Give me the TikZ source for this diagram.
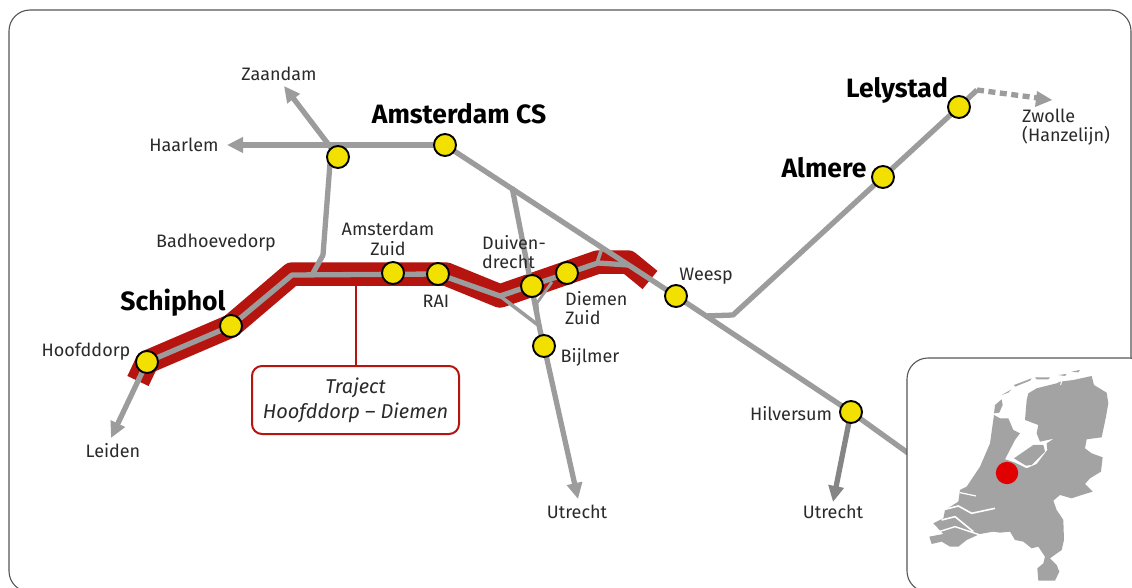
\documentclass[tikz,border=0pt]{standalone}
\usepackage{fontspec}
\setmainfont{Fira Sans}
\usetikzlibrary{arrows.meta}
\definecolor{rail}{HTML}{9C9C9C}
\definecolor{band}{HTML}{B5140F}
\definecolor{yel}{HTML}{F2E000}
\definecolor{txt}{HTML}{2A2A2A}
\definecolor{frm}{HTML}{555555}
\definecolor{mapg}{HTML}{A3A3A3}
\tikzset{
  stn/.style={circle,draw=black,line width=1.9pt,fill=yel,minimum size=22pt,inner sep=0pt},
  lbl/.style={text=txt,font=\fontsize{18}{19.5}\selectfont,inner sep=0pt,align=left},
  big/.style={text=black,font=\fontsize{26.5}{28}\selectfont\bfseries,inner sep=0pt},
  track/.style={draw=rail,line width=5.3pt,line join=round},
  thin track/.style={draw=rail,line width=2.8pt,line join=round},
  arr/.style={track,-{Triangle[length=16pt,width=15pt]}},
  frame/.style={draw=frm,line width=1.1pt,rounded corners=21pt},
}
\begin{document}
\begin{tikzpicture}[x=1pt,y=-1pt]
\useasboundingbox (0,0) rectangle (1132,588);
\begin{scope}
\clip (0,0) rectangle (1132,588);
\draw[frame,fill=white] (9,10) rectangle (1131,592);

% waypoints
\coordinate (a1) at (138,381);
\coordinate (a3) at (292,274);
\coordinate (a4) at (446,274);
\coordinate (a5) at (500,296);
\coordinate (a6) at (598,262);
\coordinate (a7) at (628,262);
\coordinate (a8) at (650,280);
\coordinate (tj) at (355.5,274);
\coordinate (cs) at (445,145);
\coordinate (sl) at (338,157);
\coordinate (wp) at (676,296);
\coordinate (hv) at (851,412);
\coordinate (mend) at (908,453);
\coordinate (hd) at (147,362);
\coordinate (sp) at (231,326);

% red band
\draw[band,line width=23.5pt,line join=round] (a1)--(hd)--(sp)--(a3)--(a4)--(a5)--(a6)--(a7)--(a8);
\draw[band,line width=2pt] (tj)--(355.5,366);

% grey lines
\draw[track] (hd)--(sp)--(292,275)--(438,274)--(500,296)--(598,263)--(628,265);
\draw[track] (cs)--(wp)--(hv)--(mend);
\draw[arr] (cs)--(227,145);
\draw[arr] (sl)--(284,86);
\draw[track] (331,150)--(323,255)--(312,275);
\draw[arr] (hd)--(111,438);
\draw[track] (512,187)--(540,330)--(544,346);
\draw[arr] (544,346)--(578,499);
\draw[track,line width=3.6pt] (500,296)--(538,325);
\draw[thin track] (552,282)--(537,303)--(538,315);
\draw[thin track,line width=3.6pt] (602,248)--(597,263);
\draw[track] (705,316)--(733,315)--(883,177)--(959,107)--(977,90);
\draw[rail,line width=5.3pt,dash pattern=on 7pt off 4.5pt] (977,90)--(1038,98);
\fill[rail] (1052,100)--(1035,107)--(1037,91)--cycle;
\draw[arr,draw=rail!85!black] (hv)--(833,502);

% stations
\node[stn] (nCS) at (cs) {};
\node[stn] (nSL) at (sl) {};
\node[stn] (nLS) at (959,107) {};
\node[stn] (nAL) at (883,177) {};
\node[stn] (nWP) at (wp) {};
\node[stn] (nHV) at (hv) {};
\node[stn] (nHD) at (hd) {};
\node[stn] (nSP) at (sp) {};
\node[stn] (nZD) at (393,273) {};
\node[stn] (nRA) at (438,274) {};
\node[stn] (nDV) at (532,286) {};
\node[stn] (nDZ) at (567,273) {};
\node[stn] (nBJ) at (544,346) {};

% callout
\node[draw=band,line width=2pt,rounded corners=10pt,fill=white,minimum width=207pt,minimum height=68pt,inner sep=0pt,align=center,text=txt,font=\fontsize{20}{25}\selectfont\itshape] (box) at (355.5,400) {Traject\\Hoofddorp – Diemen};

% labels
\node[lbl,anchor=center] (t1) at (279,74) {Zaandam};
\node[lbl,anchor=center] (t2) at (184,145) {Haarlem};
\node[lbl,anchor=center] (t3) at (216,243) {Badhoevedorp};
\node[lbl,anchor=center,align=center] (t4) at (388,239) {Amsterdam\\Zuid};
\node[lbl,anchor=center] (t5) at (436,301) {RAI};
\node[lbl,anchor=west] (t6) at (482,252) {Duiven-\\drecht};
\node[lbl,anchor=west] (t7) at (565,308) {Diemen\\Zuid};
\node[lbl,anchor=center] (t8) at (590,357) {Bijlmer};
\node[lbl,anchor=center] (t9) at (706,276) {Weesp};
\node[lbl,anchor=center] (t10) at (791,414) {Hilversum};
\node[lbl,anchor=center] (t11) at (833,512) {Utrecht};
\node[lbl,anchor=center] (t12) at (577,512) {Utrecht};
\node[lbl,anchor=center] (t13) at (113,451) {Leiden};
\node[lbl,anchor=center] (t14) at (86,352) {Hoofddorp};
\node[lbl,anchor=west] (t15) at (1022,127) {Zwolle\\(Hanzelijn)};
\node[big,anchor=center] (b1) at (459,114) {Amsterdam CS};
\node[big,anchor=center] (b2) at (173,303) {Schiphol};
\node[big,anchor=center] (b3) at (824,168) {Almere};
\node[big,anchor=center] (b4) at (897,90) {Lelystad};

% inset
\draw[frame,fill=white] (907,358) rectangle (1150,592);
\begin{scope}[shift={(900,350)},x=0.3333pt,y=-0.3333pt]
\fill[mapg] (385,130)--(410,115)--(470,100)--(480,95)--(520,90)--(575,78)--(582,105)--(620,128)--(625,160)--(618,200)--(605,262)--(560,268)--(555,295)--(575,310)--(608,322)--(603,365)--(570,385)--(555,402)--(578,425)--(545,435)--(515,445)--(480,435)--(460,452)--(470,480)--(490,510)--(492,570)--(485,600)--(450,625)--(470,645)--(478,665)--(465,692)--(415,692)--(412,655)--(430,640)--(435,620)--(415,590)--(395,595)--(370,575)--(345,570)--(330,545)--(300,548)--(280,545)--(240,552)--(200,570)--(175,590)--(150,590)--(125,575)--(95,582)--(88,560)--(130,552)--(100,520)--(130,505)--(135,480)--(175,455)--(180,420)--(200,410)--(240,350)--(270,280)--(282,195)--(300,205)--(325,205)--(340,240)--(360,250)--(345,270)--(315,328)--(345,338)--(380,355)--(410,342)--(442,300)--(440,280)--(462,266)--(420,275)--(410,250)--(415,225)--(375,210)--(380,150)--cycle;
\fill[mapg] (342,325)--(400,285)--(430,285)--(435,305)--(395,345)--(378,347)--cycle;
\fill[mapg] (282,190)--(285,165)--(305,148)--(308,165)--(298,188)--cycle;
\fill[mapg] (305,135)--(335,118)--(325,128)--cycle;
\fill[mapg] (342,105)--(395,85)--(390,92)--(345,110)--cycle;
\fill[mapg] (405,82)--(450,82)--(445,88)--(410,88)--cycle;
\fill[mapg] (475,75)--(500,72)--(495,78)--cycle;
\fill[mapg] (515,65)--(540,60)--(535,67)--cycle;
\draw[white,line width=1.2pt] (180,428)--(228,438);
\draw[white,line width=1.6pt] (135,478)--(175,468)--(215,490)--(285,475);
\draw[white,line width=1.6pt] (125,510)--(165,500)--(220,545);
\draw[white,line width=1.4pt] (95,552)--(165,530)--(240,555);
\draw[white,line width=1pt] (485,92)--(482,105);
\end{scope}
\fill[red!88!black] (1007,473) circle (11.2pt);
\end{scope}
\end{tikzpicture}
\end{document}
